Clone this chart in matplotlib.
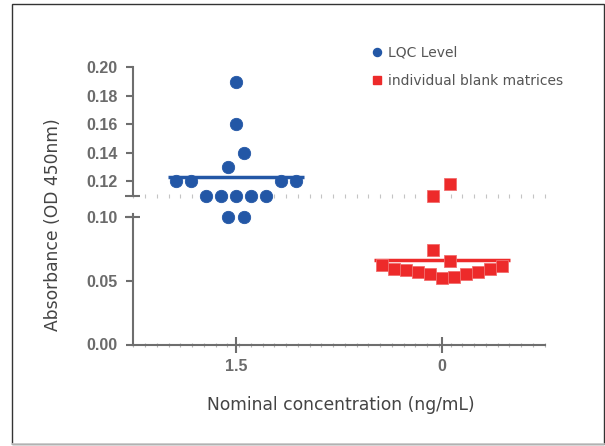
import numpy as np
import matplotlib
matplotlib.use("Agg")
import matplotlib.pyplot as plt
import matplotlib.transforms as mtransforms
from matplotlib.lines import Line2D
from matplotlib.patches import Rectangle
from matplotlib.ticker import FixedLocator

# --- data (listed in entry order) -------------------------------------------
categories = ["1.5", "0"]
series_names = ["LQC Level", "individual blank matrices"]
lqc_level = [0.19, 0.16, 0.13, 0.14, 0.12, 0.12, 0.11, 0.11,
             0.11, 0.11, 0.11, 0.12, 0.12, 0.10, 0.10]
blank_matrices = [0.110, 0.118, 0.074, 0.065, 0.062, 0.059, 0.058, 0.057,
                  0.055, 0.052, 0.053, 0.055, 0.057, 0.059, 0.061]
upper_ticks = [0.12, 0.14, 0.16, 0.18, 0.20]
lower_ticks = [0.00, 0.05, 0.10]
upper_range = (0.11, 0.20)
lower_range = (0.0, 0.102)

BLUE = "#2357a6"
RED = "#ed2a2a"
AXIS = "#6e6e6e"
TICKTXT = "#6b6b6b"

plt.rcParams["font.family"] = ["DejaVu Sans"]

W, H = 605, 446
fig = plt.figure(figsize=(W / 100, H / 100), dpi=100)


def px_rect(x0, y_top, x1, y_bot):
    return [x0 / W, 1 - y_bot / H, (x1 - x0) / W, (y_bot - y_top) / H]


ax_hi = fig.add_axes(px_rect(133.3, 67.3, 544.5, 195.7))
ax_lo = fig.add_axes(px_rect(133.3, 214, 544.5, 344.5))

for ax, rng in ((ax_hi, upper_range), (ax_lo, lower_range)):
    ax.set_xlim(-0.5, 1.5)
    ax.set_ylim(*rng)
    ax.patch.set_alpha(0)
    for s in ("top", "right"):
        ax.spines[s].set_visible(False)
    ax.spines["left"].set_color(AXIS)
    ax.spines["left"].set_linewidth(1.5)
    ax.xaxis.set_minor_locator(FixedLocator(np.linspace(-0.5, 1.5, 36)))
    ax.tick_params(axis="y", direction="out", length=5.3, width=1.5,
                   color=AXIS, pad=6, labelsize=11.6, labelcolor=TICKTXT)

ax_hi.spines["bottom"].set_visible(False)
ax_lo.spines["bottom"].set_color(AXIS)
ax_lo.spines["bottom"].set_linewidth(1.5)

ax_hi.set_yticks(upper_ticks, [f"{v:.2f}" for v in upper_ticks])
ax_lo.set_yticks(lower_ticks, [f"{v:.2f}" for v in lower_ticks])

# dotted break line = minor ticks of the upper panel
ax_hi.set_xticks([])
ax_hi.tick_params(axis="x", which="minor", bottom=True, direction="inout",
                  length=3, width=0.8, color="#c4c4c4")

ax_lo.set_xticks([0, 1], categories)
ax_lo.tick_params(axis="x", which="major", direction="inout", length=11.5,
                  width=1.5, color=AXIS, pad=5, labelsize=11.6,
                  labelcolor=TICKTXT)
ax_lo.tick_params(axis="x", which="minor", direction="inout", length=3,
                  width=0.8, color="#b5b5b5")

for ax in (ax_hi, ax_lo):
    for lbl in ax.get_xticklabels() + ax.get_yticklabels():
        lbl.set_fontfamily("Liberation Sans")
        lbl.set_fontweight("bold")

# crossing ticks at the two ends of the axis break
for ax, yv in ((ax_hi, upper_range[0]), (ax_lo, 0.10)):
    tr = mtransforms.blended_transform_factory(ax.transAxes, ax.transData)
    ax.plot([-0.019, 0.017], [yv, yv], color=AXIS, lw=1.5, transform=tr,
            clip_on=False, solid_capstyle="butt")

split = (upper_range[0] + lower_range[1]) / 2


def panel(v):
    return ax_hi if v >= split else ax_lo


def swarm_x(values, center, row_px=15, step_px=16.5, width_px=120):
    """Prism-like scatter: close values share a row, laid out left to right
    in entry order and centred on the column."""
    values = np.asarray(values, dtype=float)
    ypix = np.array([panel(v).transData.transform((0, v))[1] for v in values])
    unit = ax_lo.transData.transform((1, 0))[0] - ax_lo.transData.transform((0, 0))[0]
    order = np.argsort(ypix, kind="stable")
    rows, cur = [], [order[0]]
    for i in order[1:]:
        if ypix[i] - ypix[cur[0]] > row_px:
            rows.append(cur)
            cur = [i]
        else:
            cur.append(i)
    rows.append(cur)
    xs = np.zeros(len(values))
    for row in rows:
        row = sorted(row)
        n = len(row)
        step = step_px if n < 2 else min(step_px, width_px / (n - 1))
        for k, i in enumerate(row):
            xs[i] = center + (k - (n - 1) / 2) * step / unit
    return xs


series = [
    (lqc_level, 0, BLUE, "o", 8.9, None),
    (blank_matrices, 1, RED, "s", 8.2, "#f26d6d"),
]
for vals, cx, color, mk, ms, edge in series:
    xs = swarm_x(vals, cx)
    for x, v in zip(xs, vals):
        panel(v).plot(x, v, ls="", marker=mk, ms=ms, color=color,
                      mec=edge or color, mew=0.6, clip_on=False, zorder=3)
    m = np.mean(vals)
    panel(m).plot([cx - 0.33, cx + 0.33], [m, m], color=color, lw=2.5,
                  solid_capstyle="butt", clip_on=False, zorder=2)

# axis titles
fig.text(53 / W, 1 - 224.5 / H, "Absorbance (OD 450nm)", rotation=90,
         ha="center", va="center", fontsize=12.3, color="#444444")
fig.text(341 / W, 1 - 409.5 / H, "Nominal concentration (ng/mL)",
         ha="center", va="baseline", fontsize=12.3, color="#444444")

# legend
handles = [
    Line2D([], [], ls="", marker="o", ms=5.8, color=BLUE),
    Line2D([], [], ls="", marker="s", ms=5.5, color=RED),
]
fig.legend(handles, series_names, loc="upper left",
           bbox_to_anchor=(371 / W, 1 - 45.5 / H), frameon=False, fontsize=10,
           labelcolor="#555555", handlelength=0.8, handletextpad=0.43,
           labelspacing=1.04, borderpad=0, borderaxespad=0)

# outer frame
fig.add_artist(Rectangle((11.7 / W, 1 - 443.5 / H), (603.5 - 11.7) / W,
                         (443.5 - 4) / H, transform=fig.transFigure,
                         fill=False, edgecolor="#333333", lw=1.0))
fig.add_artist(Line2D([11.7 / W, 603.5 / W], [1 - 443.5 / H] * 2,
                      transform=fig.transFigure, color="#cccccc", lw=1.2))

fig.savefig("out.png", dpi=100)
